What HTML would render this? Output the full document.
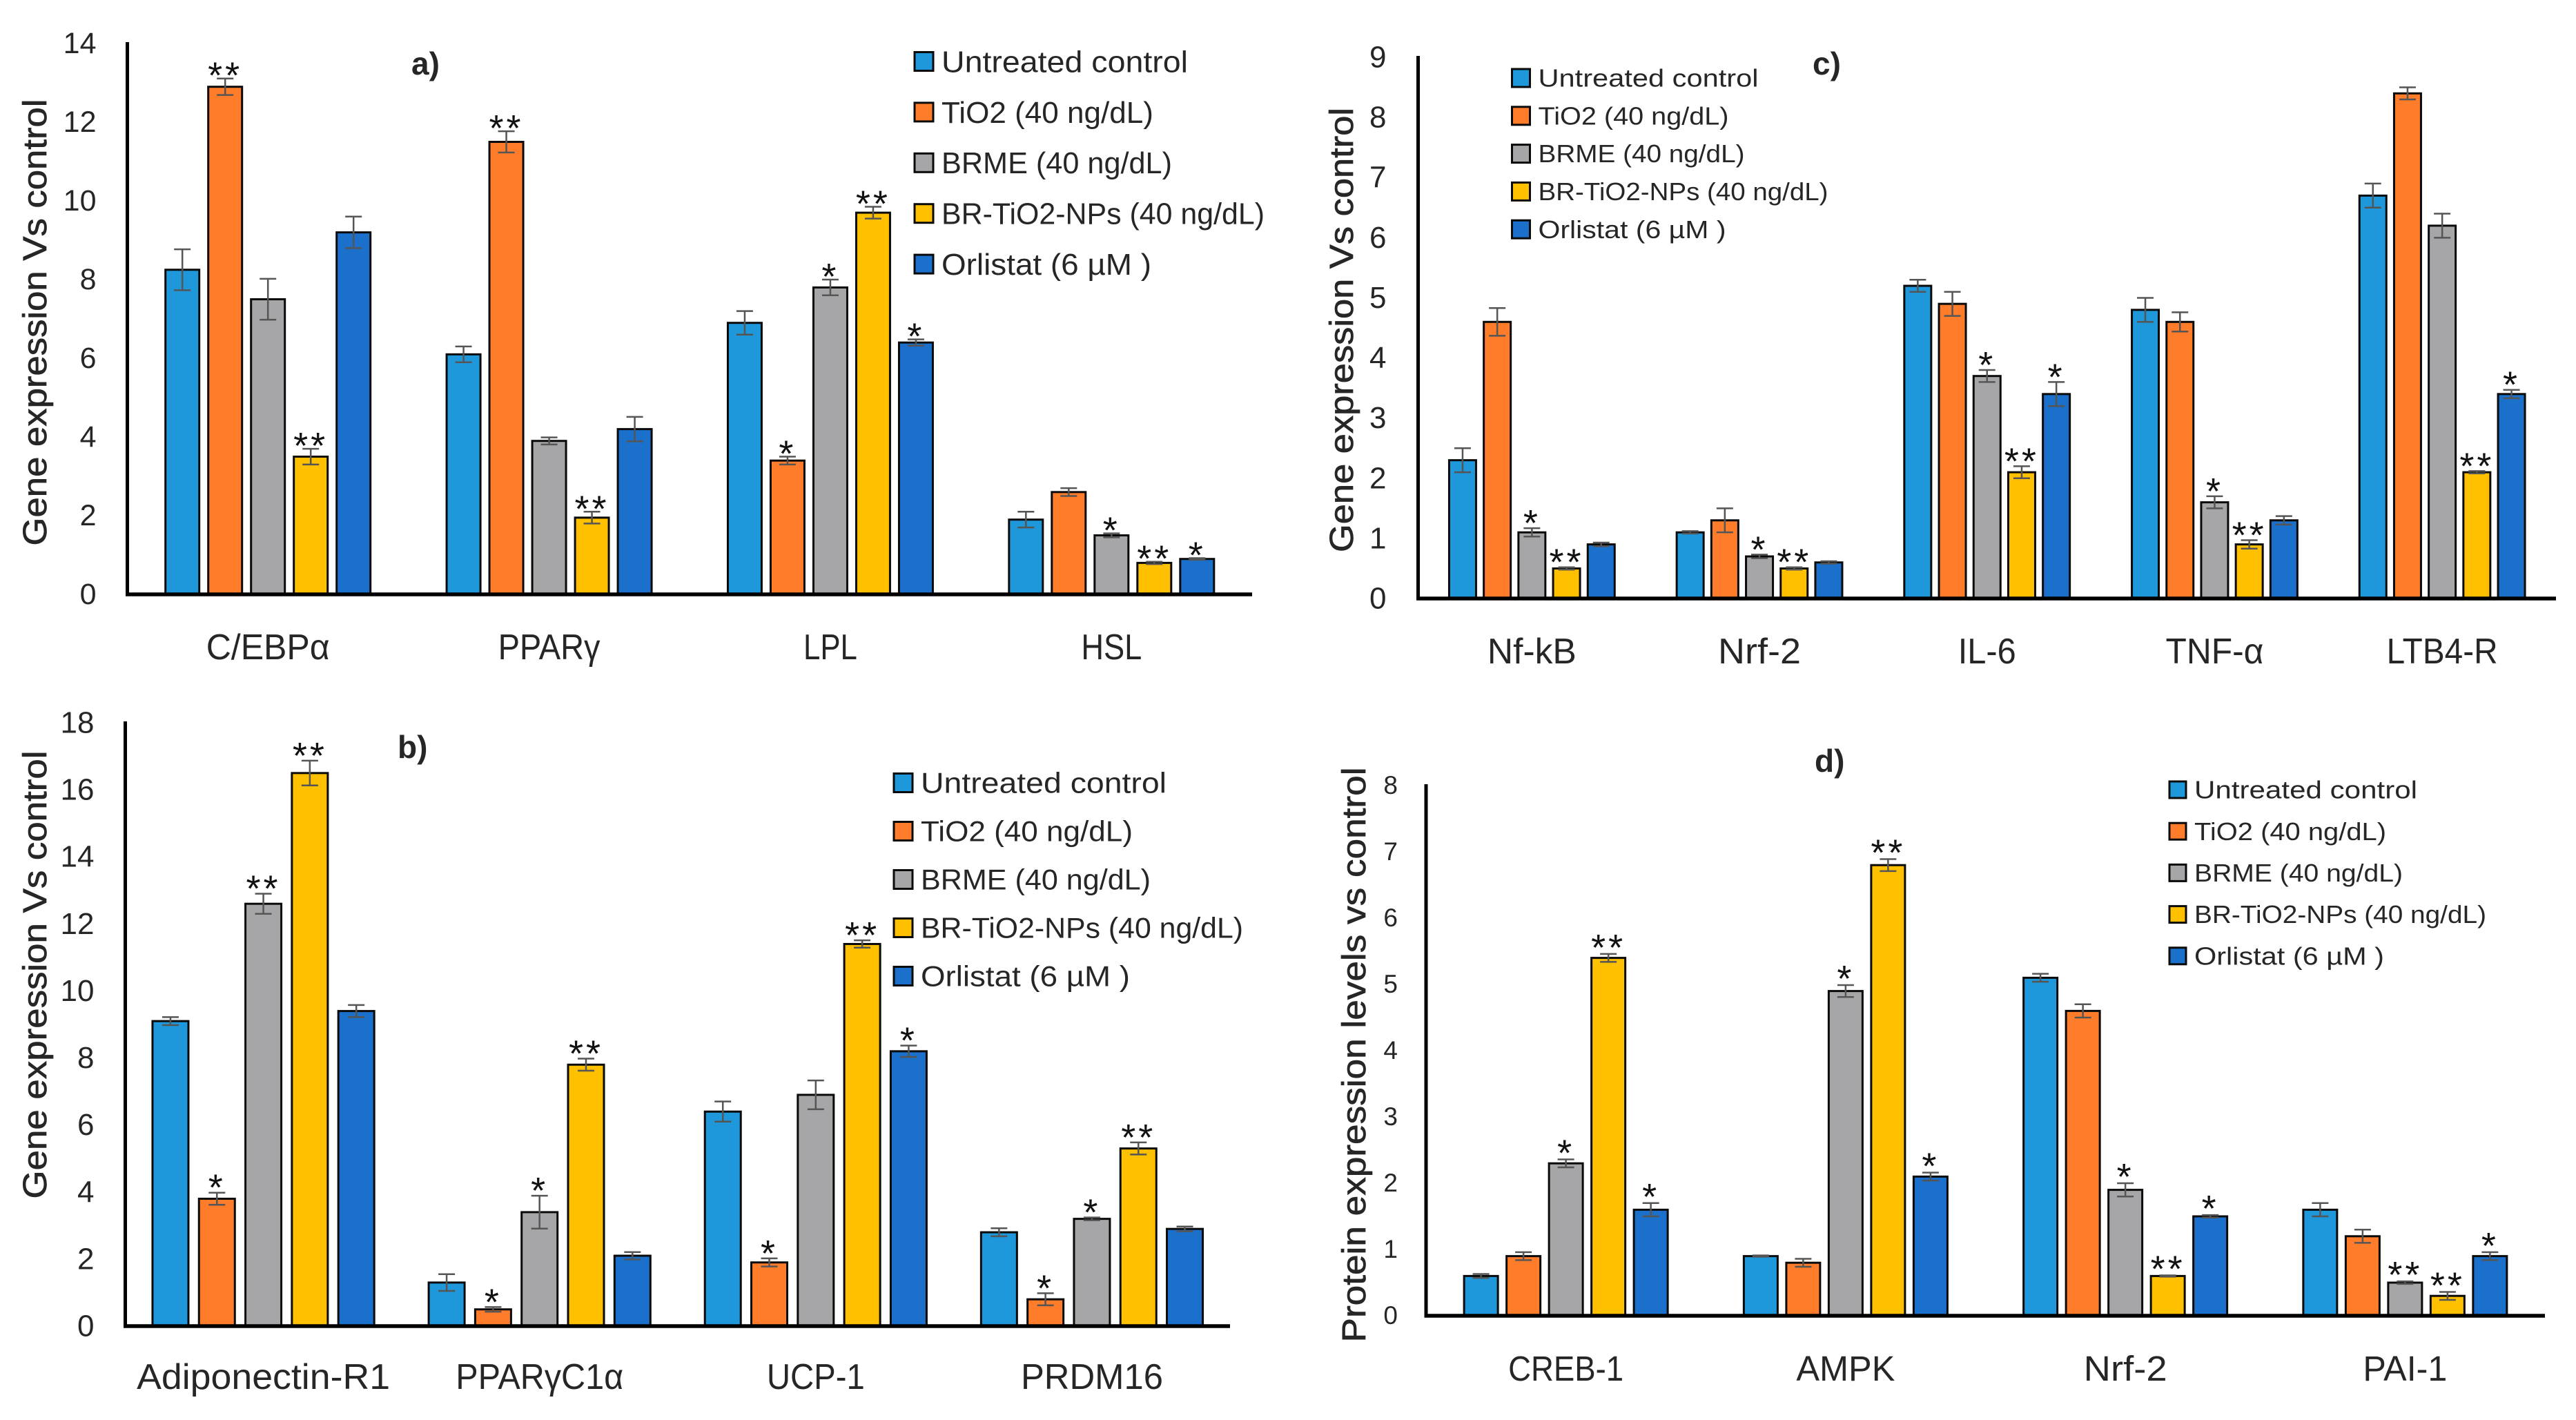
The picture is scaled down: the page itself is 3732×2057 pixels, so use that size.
<!DOCTYPE html>
<html lang="en">
<head>
<meta charset="utf-8">
<title>Gene and protein expression bar charts</title>
<style>
html,body{margin:0;padding:0;background:#fff;width:3732px;height:2057px;overflow:hidden}
svg{display:block;font-family:"Liberation Sans",Arial,sans-serif}
text{fill:#262626}
</style>
</head>
<body>
<svg id="figure" xmlns="http://www.w3.org/2000/svg" width="3732" height="2057" viewBox="0 0 3732 2057"></svg>
<script>
// Shared legend
const seriesNames = ['Untreated control','TiO2 (40 ng/dL)','BRME (40 ng/dL)','BR-TiO2-NPs (40 ng/dL)','Orlistat (6 µM )'];
const seriesColors = ['#1E98DA','#FF7C2A','#A6A6A8','#FFC000','#1B70CC'];

// Panel a
const aCategories = ['C/EBPα','PPARγ','LPL','HSL'];
const aTicks = [0,2,4,6,8,10,12,14];
const aUntreated = [8.25,6.1,6.9,1.9];
const aTiO2 = [12.9,11.5,3.4,2.6];
const aBRME = [7.5,3.9,7.8,1.5];
const aNPs = [3.5,1.95,9.7,0.8];
const aOrlistat = [9.2,4.2,6.4,0.9];
const aUntreatedErr = [0.52,0.2,0.3,0.2];
const aTiO2Err = [0.21,0.27,0.1,0.1];
const aBRMEErr = [0.52,0.09,0.2,0.05];
const aNPsErr = [0.2,0.15,0.15,0.03];
const aOrlistatErr = [0.4,0.31,0.08,0.02];
const aUntreatedStars = ['','','',''];
const aTiO2Stars = ['**','**','*',''];
const aBRMEStars = ['','','*','*'];
const aNPsStars = ['**','**','**','**'];
const aOrlistatStars = ['','','*','*'];

// Panel b
const bCategories = ['Adiponectin-R1','PPARγC1α','UCP-1','PRDM16'];
const bTicks = [0,2,4,6,8,10,12,14,16,18];
const bUntreated = [9.1,1.3,6.4,2.8];
const bTiO2 = [3.8,0.5,1.9,0.8];
const bBRME = [12.6,3.4,6.9,3.2];
const bNPs = [16.5,7.8,11.4,5.3];
const bOrlistat = [9.4,2.1,8.2,2.9];
const bUntreatedErr = [0.12,0.25,0.3,0.12];
const bTiO2Err = [0.18,0.07,0.12,0.18];
const bBRMEErr = [0.3,0.49,0.43,0.04];
const bNPsErr = [0.37,0.18,0.11,0.18];
const bOrlistatErr = [0.18,0.11,0.17,0.07];
const bUntreatedStars = ['','','',''];
const bTiO2Stars = ['*','*','*','*'];
const bBRMEStars = ['**','*','','*'];
const bNPsStars = ['**','**','**','**'];
const bOrlistatStars = ['','','*',''];

// Panel c
const cCategories = ['Nf-kB','Nrf-2','IL-6','TNF-α','LTB4-R'];
const cTicks = [0,1,2,3,4,5,6,7,8,9];
const cUntreated = [2.3,1.1,5.2,4.8,6.7];
const cTiO2 = [4.6,1.3,4.9,4.6,8.4];
const cBRME = [1.1,0.7,3.7,1.6,6.2];
const cNPs = [0.5,0.5,2.1,0.9,2.1];
const cOrlistat = [0.9,0.6,3.4,1.3,3.4];
const cUntreatedErr = [0.2,0.02,0.1,0.2,0.2];
const cTiO2Err = [0.23,0.2,0.2,0.16,0.1];
const cBRMEErr = [0.07,0.03,0.1,0.1,0.2];
const cNPsErr = [0.02,0.02,0.1,0.07,0.02];
const cOrlistatErr = [0.03,0.02,0.2,0.07,0.07];
const cUntreatedStars = ['','','','',''];
const cTiO2Stars = ['','','','',''];
const cBRMEStars = ['*','*','*','*',''];
const cNPsStars = ['**','**','**','**','**'];
const cOrlistatStars = ['','','*','','*'];

// Panel d
const dCategories = ['CREB-1','AMPK','Nrf-2','PAI-1'];
const dTicks = [0,1,2,3,4,5,6,7,8];
const dUntreated = [0.6,0.9,5.1,1.6];
const dTiO2 = [0.9,0.8,4.6,1.2];
const dBRME = [2.3,4.9,1.9,0.5];
const dNPs = [5.4,6.8,0.6,0.3];
const dOrlistat = [1.6,2.1,1.5,0.9];
const dUntreatedErr = [0.03,0.01,0.06,0.1];
const dTiO2Err = [0.06,0.06,0.1,0.1];
const dBRMEErr = [0.06,0.09,0.1,0.02];
const dNPsErr = [0.06,0.09,0.01,0.06];
const dOrlistatErr = [0.1,0.06,0.02,0.06];
const dUntreatedStars = ['','','',''];
const dTiO2Stars = ['','','',''];
const dBRMEStars = ['*','*','*','**'];
const dNPsStars = ['**','**','**','**'];
const dOrlistatStars = ['*','*','*','*'];

const NS = 'http://www.w3.org/2000/svg';
const root = document.getElementById('figure');

function make(parent, tag, attrs, content) {
  const node = document.createElementNS(NS, tag);
  for (const key in attrs) node.setAttribute(key, attrs[key]);
  if (content !== undefined) node.textContent = content;
  parent.appendChild(node);
  return node;
}

function drawPanel(p) {
  const g = make(root, 'g', {});
  
  

  const yMax = p.ticks[p.ticks.length - 1];
  const yScale = v => p.y0 - (v / yMax) * (p.y0 - p.y1);
  const band = (p.x1 - p.x0) / p.categories.length;
  const xCenter = i => p.x0 + band * (i + 0.5);

  // bars, error bars and significance stars
  p.series.forEach((values, s) => {
    values.forEach((v, c) => {
      const cx = xCenter(c) + (s - 2) * p.barStep;
      const top = yScale(v);
      const bar = make(g, 'rect', {x: cx - p.barW / 2, y: top, width: p.barW, height: p.y0 - top, fill: seriesColors[s], stroke: '#0a0a0a', 'stroke-width': 3});
      
      

      const e = p.errors[s][c];
      const hi = yScale(v + e), lo = yScale(v - e);
      const err = make(g, 'path', {d: `M${cx} ${hi}V${lo}M${cx - 12} ${hi}H${cx + 12}M${cx - 12} ${lo}H${cx + 12}`, stroke: '#555', 'stroke-width': 2.5, fill: 'none'});
      
      

      const mark = p.stars[s][c];
      if (mark) {
        const star = make(g, 'text', {x: cx, y: hi - p.starLift + 31, 'text-anchor': 'middle', 'font-size': 54, 'letter-spacing': 4, style: 'fill:#111'}, mark);
        
        
      }
    });
  });

  // axes
  const yAxis = make(g, 'line', {x1: p.x0, x2: p.x0, y1: p.y1 - 2, y2: p.y0, stroke: '#000', 'stroke-width': 5});
  
  
  const xAxis = make(g, 'line', {x1: p.x0 - 2.5, x2: p.x1, y1: p.y0, y2: p.y0, stroke: '#000', 'stroke-width': 5.5});
  
  

  // tick labels
  p.ticks.forEach(t => {
    const tick = make(g, 'text', {x: p.x0 - p.tickGap, y: yScale(t) + p.tickSize * 0.33, 'text-anchor': 'end', 'font-size': p.tickSize}, t);
    
    
  });
  p.categories.forEach((name, c) => {
    const cat = make(g, 'text', {x: xCenter(c), y: p.catY, 'text-anchor': 'middle', 'font-size': p.catSize, textLength: p.catLengths[c], lengthAdjust: 'spacingAndGlyphs'}, name);
    
    
  });

  // axis title
  const title = make(g, 'text', {transform: `translate(${p.titleX} ${p.titleY}) rotate(-90)`, 'text-anchor': 'middle', 'font-size': 48, textLength: p.titleLen, lengthAdjust: 'spacingAndGlyphs', stroke: '#262626', 'stroke-width': 0.7}, p.title);
  
  

  // panel letter
  const letter = make(g, 'text', {x: p.letterX, y: p.letterY, 'font-size': 46, 'font-weight': 'bold'}, p.letter);
  
  

  // legend
  const legend = make(g, 'g', {});
  
  
  seriesNames.forEach((name, s) => {
    const cy = p.legendY + s * p.legendStep;
    const entry = make(legend, 'g', {});
    
    
    const swatch = make(entry, 'rect', {x: p.legendX, y: cy - p.swatchH / 2, width: p.swatchW, height: p.swatchH, fill: seriesColors[s], stroke: '#0a0a0a', 'stroke-width': 3});
    
    
    const label = make(entry, 'text', {x: p.legendX + p.swatchW + 12, y: cy + p.legendSize * 0.35, 'font-size': p.legendSize, textLength: p.legendLengths[s], lengthAdjust: 'spacingAndGlyphs'}, name);
    
    
  });
}

drawPanel({
  id: 'a', letter: 'a)', title: 'Gene expression Vs control', categories: aCategories, ticks: aTicks,
  series: [aUntreated, aTiO2, aBRME, aNPs, aOrlistat],
  errors: [aUntreatedErr, aTiO2Err, aBRMEErr, aNPsErr, aOrlistatErr],
  stars: [aUntreatedStars, aTiO2Stars, aBRMEStars, aNPsStars, aOrlistatStars],
  x0: 184.5, x1: 1814, y0: 861, y1: 63, barStep: 62, barW: 49, starLift: 17,
  tickGap: 45, tickSize: 43, catY: 955, catSize: 52, catLengths: [179, 148, 78, 88],
  titleX: 67, titleY: 467, titleLen: 647, letterX: 596, letterY: 108,
  legendX: 1325, legendY: 89, legendStep: 73.4, swatchW: 27, swatchH: 27, legendSize: 44,
  legendLengths: [357, 307, 334, 468, 304]
});

drawPanel({
  id: 'b', letter: 'b)', title: 'Gene expression Vs control', categories: bCategories, ticks: bTicks,
  series: [bUntreated, bTiO2, bBRME, bNPs, bOrlistat],
  errors: [bUntreatedErr, bTiO2Err, bBRMEErr, bNPsErr, bOrlistatErr],
  stars: [bUntreatedStars, bTiO2Stars, bBRMEStars, bNPsStars, bOrlistatStars],
  x0: 181.5, x1: 1782, y0: 1921, y1: 1047, barStep: 67.3, barW: 52, starLift: 20,
  tickGap: 45, tickSize: 44, catY: 2012, catSize: 52, catLengths: [367, 243, 142, 206],
  titleX: 67, titleY: 1412, titleLen: 649, letterX: 576, letterY: 1098,
  legendX: 1295, legendY: 1134, legendStep: 70, swatchW: 27, swatchH: 27, legendSize: 42,
  legendLengths: [356, 307, 333, 467, 303]
});

drawPanel({
  id: 'c', letter: 'c)', title: 'Gene expression Vs control', categories: cCategories, ticks: cTicks,
  series: [cUntreated, cTiO2, cBRME, cNPs, cOrlistat],
  errors: [cUntreatedErr, cTiO2Err, cBRMEErr, cNPsErr, cOrlistatErr],
  stars: [cUntreatedStars, cTiO2Stars, cBRMEStars, cNPsStars, cOrlistatStars],
  x0: 2054.5, x1: 3703, y0: 867, y1: 83, barStep: 50.2, barW: 39, starLift: 20,
  tickGap: 46, tickSize: 44, catY: 961, catSize: 52, catLengths: [129, 120, 84, 142, 161],
  titleX: 1960, titleY: 478, titleLen: 644, letterX: 2626, letterY: 108,
  legendX: 2190.5, legendY: 113, legendStep: 54.8, swatchW: 26, swatchH: 26, legendSize: 36,
  legendLengths: [319, 276, 299, 420, 272]
});

drawPanel({
  id: 'd', letter: 'd)', title: 'Protein expression levels vs control', categories: dCategories, ticks: dTicks,
  series: [dUntreated, dTiO2, dBRME, dNPs, dOrlistat],
  errors: [dUntreatedErr, dTiO2Err, dBRMEErr, dNPsErr, dOrlistatErr],
  stars: [dUntreatedStars, dTiO2Stars, dBRMEStars, dNPsStars, dOrlistatStars],
  x0: 2066, x1: 3687, y0: 1906, y1: 1138, barStep: 61.5, barW: 49, starLift: 22,
  tickGap: 41, tickSize: 37, catY: 2000, catSize: 51, catLengths: [167, 143, 121, 122],
  titleX: 1978, titleY: 1528, titleLen: 833, letterX: 2629, letterY: 1118,
  legendX: 3143, legendY: 1144, legendStep: 60.2, swatchW: 24, swatchH: 24, legendSize: 36,
  legendLengths: [323, 278, 302, 423, 275]
});
</script>
</body>
</html>
